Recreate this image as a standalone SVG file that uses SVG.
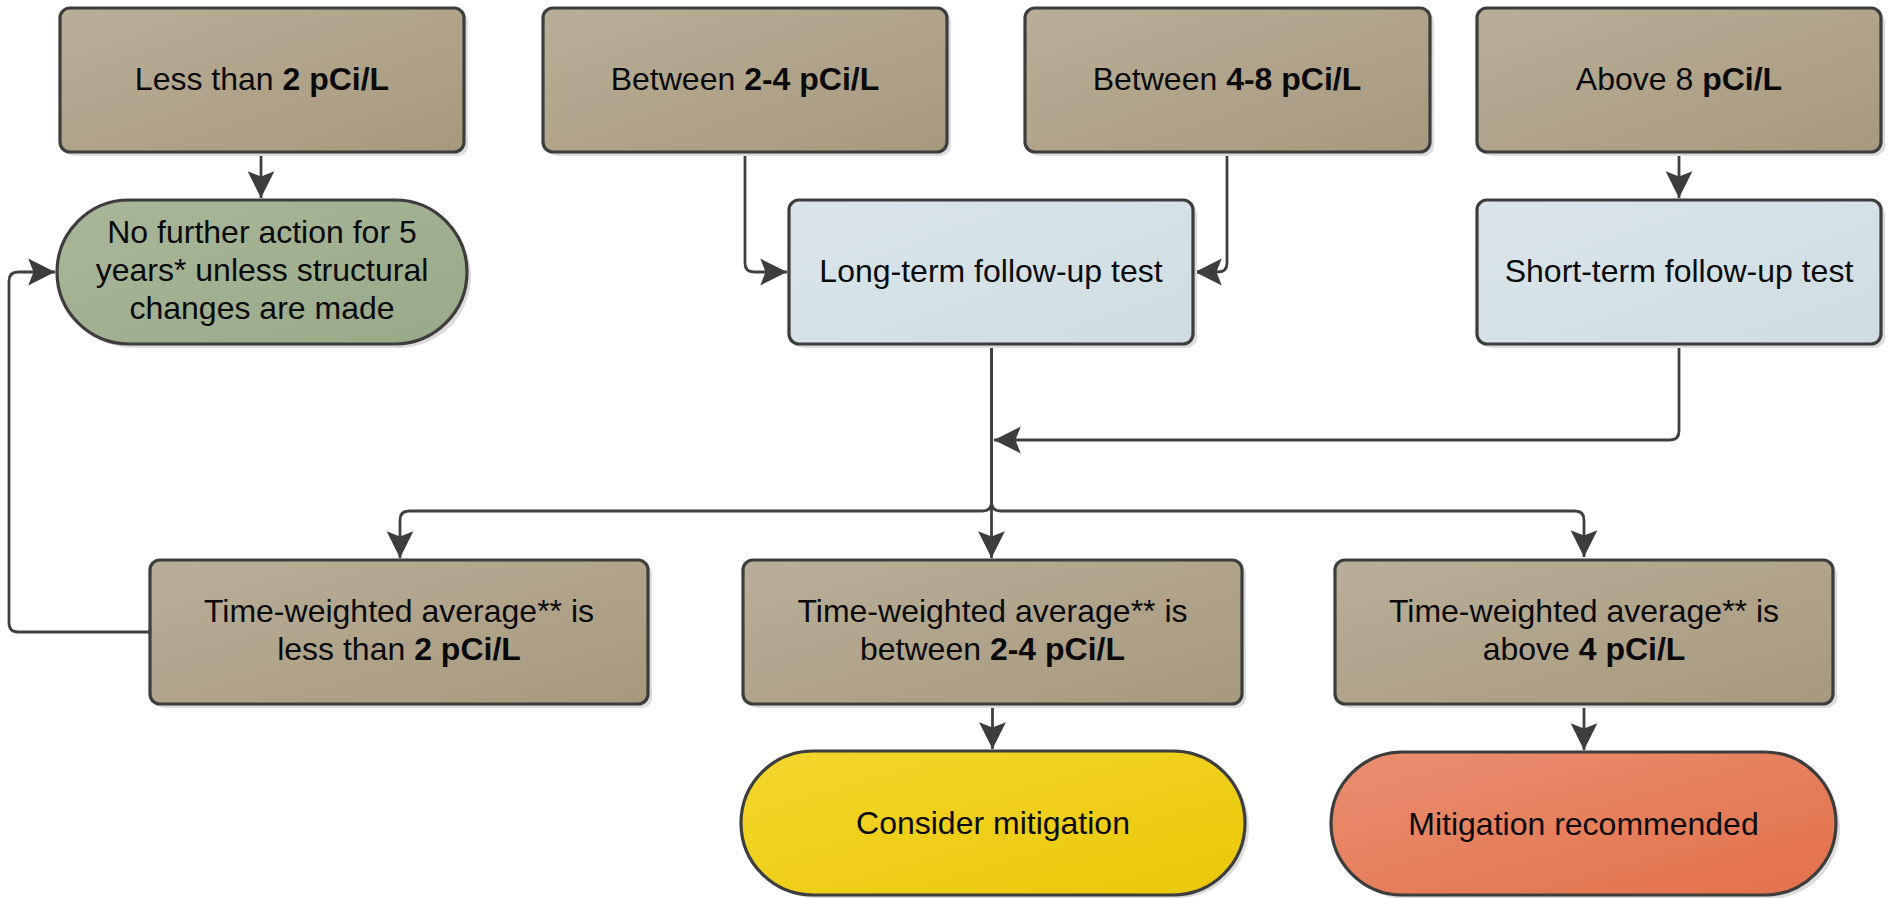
<svg xmlns="http://www.w3.org/2000/svg" width="1891" height="898" viewBox="0 0 1891 898">
<style>
.box{stroke:#3d3d3d;stroke-width:3.2}
.sh{fill:#dcdcdc}
.brown{fill:url(#gBrown)}
.blue{fill:url(#gBlue)}
.green{fill:url(#gGreen)}
.yellow{fill:url(#gYellow)}
.red{fill:url(#gRed)}
text{font-family:"Liberation Sans",Arial,sans-serif;font-size:32px;fill:#0a0a0a;text-anchor:middle}
.b{font-weight:bold}
.con{fill:none;stroke:#404040;stroke-width:2.8;marker-end:url(#arr)}
</style>
<defs>
<linearGradient id="gBrown" x1="0" y1="0" x2="1" y2="1"><stop offset="0" stop-color="#b9ae98"/><stop offset="1" stop-color="#a7997d"/></linearGradient>
<linearGradient id="gBlue" x1="0" y1="0" x2="1" y2="1"><stop offset="0" stop-color="#d9e5ea"/><stop offset="1" stop-color="#cfdde3"/></linearGradient>
<linearGradient id="gGreen" x1="0" y1="0" x2="1" y2="1"><stop offset="0" stop-color="#a8b799"/><stop offset="1" stop-color="#98a988"/></linearGradient>
<linearGradient id="gYellow" x1="0" y1="0" x2="1" y2="1"><stop offset="0" stop-color="#f3d72c"/><stop offset="1" stop-color="#eac708"/></linearGradient>
<linearGradient id="gRed" x1="0" y1="0" x2="1" y2="1"><stop offset="0" stop-color="#ea8e70"/><stop offset="1" stop-color="#e2714a"/></linearGradient>
<marker id="arr" markerUnits="userSpaceOnUse" markerWidth="30" markerHeight="30" viewBox="-26 -13 28 26" refX="0" refY="0" orient="auto">
<path d="M0,0 L-25,-12.5 L-20,0 L-25,12.5 Z" fill="#3d3d3d"/>
</marker>
</defs>

<g id="connectors">
<path class="con" d="M261,152 V198"/>
<path class="con" d="M745,152 V263 Q745,272 754,272 H787"/>
<path class="con" d="M1227,152 V263 Q1227,272 1218,272 H1195"/>
<path class="con" d="M1679,152 V198"/>
<path class="con" d="M1679,344 V431 Q1679,440 1670,440 H994"/>
<path class="con" d="M991.5,344 V502 Q991.5,511 982.5,511 H409 Q400,511 400,520 V558"/>
<path class="con" d="M991.5,344 V558"/>
<path class="con" d="M991.5,344 V502 Q991.5,511 1000.5,511 H1575 Q1584,511 1584,520 V557"/>
<path class="con" d="M992.5,704 V749"/>
<path class="con" d="M1584,704 V750"/>
<path class="con" d="M150,632 H18 Q9,632 9,623 V281 Q9,272 18,272 H55"/>
</g>

<g id="n-less2">
<rect class="sh" x="64" y="12" width="404" height="144" rx="10"/>
<rect class="box brown" x="60" y="8" width="404" height="144" rx="10"/>
<text x="262" y="90">Less than <tspan class="b">2 pCi/L</tspan></text>
</g>
<g id="n-2to4">
<rect class="sh" x="547" y="12" width="404" height="144" rx="10"/>
<rect class="box brown" x="543" y="8" width="404" height="144" rx="10"/>
<text x="745" y="90">Between <tspan class="b">2-4 pCi/L</tspan></text>
</g>
<g id="n-4to8">
<rect class="sh" x="1029" y="12" width="405" height="144" rx="10"/>
<rect class="box brown" x="1025" y="8" width="405" height="144" rx="10"/>
<text x="1227" y="90">Between <tspan class="b">4-8 pCi/L</tspan></text>
</g>
<g id="n-above8">
<rect class="sh" x="1481" y="12" width="404" height="144" rx="10"/>
<rect class="box brown" x="1477" y="8" width="404" height="144" rx="10"/>
<text x="1679" y="90">Above 8 <tspan class="b">pCi/L</tspan></text>
</g>

<g id="n-noaction">
<rect class="sh" x="61" y="204" width="410" height="144" rx="72"/>
<rect class="box green" x="57" y="200" width="410" height="144" rx="72"/>
<text x="262" y="243">No further action for 5</text>
<text x="262" y="281">years* unless structural</text>
<text x="262" y="319">changes are made</text>
</g>
<g id="n-longterm">
<rect class="sh" x="793" y="204" width="404" height="144" rx="10"/>
<rect class="box blue" x="789" y="200" width="404" height="144" rx="10"/>
<text x="991" y="282">Long-term follow-up test</text>
</g>
<g id="n-shortterm">
<rect class="sh" x="1481" y="204" width="404" height="144" rx="10"/>
<rect class="box blue" x="1477" y="200" width="404" height="144" rx="10"/>
<text x="1679" y="282">Short-term follow-up test</text>
</g>

<g id="n-twa-less2">
<rect class="sh" x="154" y="564" width="498" height="144" rx="10"/>
<rect class="box brown" x="150" y="560" width="498" height="144" rx="10"/>
<text x="399" y="622">Time-weighted average** is</text>
<text x="399" y="660">less than <tspan class="b">2 pCi/L</tspan></text>
</g>
<g id="n-twa-2to4">
<rect class="sh" x="747" y="564" width="499" height="144" rx="10"/>
<rect class="box brown" x="743" y="560" width="499" height="144" rx="10"/>
<text x="992.5" y="622">Time-weighted average** is</text>
<text x="992.5" y="660">between <tspan class="b">2-4 pCi/L</tspan></text>
</g>
<g id="n-twa-above4">
<rect class="sh" x="1339" y="564" width="498" height="144" rx="10"/>
<rect class="box brown" x="1335" y="560" width="498" height="144" rx="10"/>
<text x="1584" y="622">Time-weighted average** is</text>
<text x="1584" y="660">above <tspan class="b">4 pCi/L</tspan></text>
</g>

<g id="n-consider">
<rect class="sh" x="745" y="755" width="504" height="143" rx="71.5"/>
<rect class="box yellow" x="741" y="751" width="504" height="144" rx="72"/>
<text x="993" y="834">Consider mitigation</text>
</g>
<g id="n-recommended">
<rect class="sh" x="1335" y="756" width="505" height="143" rx="71.5"/>
<rect class="box red" x="1331" y="752" width="505" height="143" rx="71.5"/>
<text x="1583.5" y="835">Mitigation recommended</text>
</g>
</svg>
